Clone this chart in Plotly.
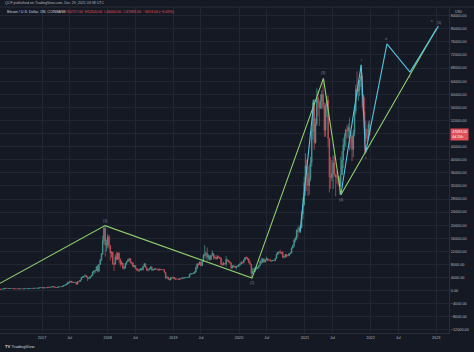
import plotly.graph_objects as go
import pandas as pd

# ---------------- data (weekly BTC/USD candles, read/estimated) ----------------
week_start = "2016-05-16"
first_open = 453

closes_2016 = [443, 527, 580, 665, 760, 660, 673, 652, 666, 655, 624, 588, 570, 581, 573, 608, 609,
               608, 602, 612, 617, 638, 657, 700, 703, 701, 731, 732, 765, 775, 790, 890, 998]
highs_2016 = [455, 530, 585, 730, 780, 765, 705, 680, 675, 680, 660, 630, 600, 590, 585, 610, 615,
              612, 610, 615, 620, 640, 660, 720, 742, 725, 745, 750, 770, 780, 792, 900, 1000]
lows_2016 = [440, 438, 520, 575, 665, 600, 620, 640, 646, 650, 620, 475, 565, 570, 568, 572, 600,
             600, 590, 600, 609, 615, 630, 650, 690, 695, 705, 720, 730, 760, 770, 790, 885]

closes_2017 = [900, 820, 920, 915, 1010, 1000, 1050, 1150, 1270, 1230,
               1010, 960, 1080, 1180, 1170, 1240, 1340, 1560, 1720, 2050,
               2200, 2520, 2950, 2600, 2590, 2500, 2520, 1980, 2750, 2740,
               3230, 4060, 4090, 4380, 4600, 4200, 3700, 3780, 4360, 4600,
               5700, 6010, 6140, 7360, 5950, 8040, 9350, 11300, 15200, 19100,
               13900, 14100]
highs_2017 = [1140, 910, 935, 930, 1025, 1060, 1060, 1210, 1290, 1330,
              1260, 1070, 1100, 1200, 1210, 1265, 1370, 1640, 1800, 2200,
              2790, 2560, 3000, 2980, 2780, 2650, 2680, 2420, 2930, 2800,
              3280, 4200, 4480, 4460, 4980, 4750, 4350, 4100, 4390, 4760,
              5850, 6180, 6300, 7450, 7900, 8100, 9700, 11400, 16800, 19870,
              19500, 15600]
lows_2017 = [780, 750, 820, 880, 910, 975, 990, 1040, 1130, 980,
             950, 880, 950, 1060, 1140, 1160, 1240, 1330, 1540, 1710,
             1850, 2150, 2500, 2300, 2450, 2320, 2490, 1840, 1950, 2600,
             2700, 3220, 3960, 3990, 4340, 4080, 2980, 3500, 3700, 4130,
             4600, 5100, 5350, 6100, 5500, 5850, 7950, 9050, 10900, 14200,
             10400, 12000]

closes_2018 = [16500, 13600, 11500, 11750, 8200, 8100, 10400, 9600, 11500, 9550,
               8200, 8450, 6850, 7050, 8350, 8900, 9400, 9650, 8700, 8500,
               7350, 7700, 6770, 6450, 6150, 6360, 6750, 6350, 7400, 8200,
               7030, 6300, 6400, 6700, 7300, 6250, 6500, 6700, 6630, 6600,
               6300, 6500, 6450, 6480, 6380, 5600, 4000, 4150, 3600, 3250,
               4000, 3900, 4050]
highs_2018 = [17200, 17100, 14000, 12000, 11900, 8600, 11100, 11800, 11700, 11700,
              9900, 9200, 8500, 7500, 8450, 9000, 9750, 9950, 10000, 8900,
              8650, 7800, 7800, 6880, 6850, 6500, 6800, 6800, 7600, 8500,
              8250, 7150, 6600, 6850, 7350, 7400, 6600, 6750, 6800, 6700,
              6650, 6750, 6600, 6550, 6550, 6400, 5650, 4450, 4300, 3650,
              4250, 4200, 4100]
lows_2018 = [13000, 12800, 9200, 10100, 7800, 6000, 8000, 9300, 9400, 8400,
             7300, 7800, 6550, 6450, 6700, 7900, 8800, 8950, 8300, 8000,
             7200, 7050, 6550, 6100, 5800, 5800, 6200, 6100, 6300, 7400,
             6950, 5950, 5900, 6250, 6700, 6150, 6150, 6300, 6350, 6450,
             6100, 6250, 6350, 6300, 6350, 5500, 3500, 3700, 3300, 3150,
             3250, 3600, 3650]

closes_2019 = [3550, 3560, 3530, 3410, 3660, 3630, 3830, 3860, 3950, 4010,
               4020, 4140, 5050, 5150, 5270, 5250, 5700, 6950, 8200, 8050,
               8750, 7650, 8900, 10800, 10800, 11450, 10250, 10550, 9500, 10800,
               11400, 10300, 10150, 9750, 10400, 10300, 10000, 8050, 7900, 8300,
               8200, 9550, 9200, 8800, 8500, 6900, 7400, 7500, 7100, 7500,
               7380, 7750]
highs_2019 = [4100, 3700, 3650, 3600, 3700, 3700, 4200, 3950, 3980, 4050,
              4100, 4200, 5100, 5450, 5350, 5650, 5900, 7500, 8350, 8200,
              8950, 8850, 9400, 11300, 13880, 12000, 13200, 11100, 10900, 10900,
              12350, 11500, 10950, 10650, 10900, 10450, 10350, 10050, 8550, 8850,
              8450, 10540, 9500, 9450, 9100, 8500, 7850, 7850, 7550, 7550,
              7700, 8150]
lows_2019 = [3500, 3450, 3450, 3350, 3350, 3580, 3620, 3750, 3750, 3850,
             3950, 3950, 4100, 4950, 4980, 5100, 5150, 5550, 6600, 7500,
             7850, 7450, 7550, 8800, 10400, 9700, 9100, 9450, 9100, 9400,
             10800, 9500, 9700, 9400, 9650, 9900, 9650, 7700, 7700, 7800,
             7900, 7350, 8900, 8550, 8250, 6520, 6850, 7200, 7000, 6450,
             7150, 7300]

closes_2020 = [8180, 8700, 8600, 9350, 10150, 9900, 9680, 8530, 8050, 5360,
               5830, 5880, 6780, 6900, 7120, 7700, 8900, 8750, 9700, 8720,
               9450, 9750, 9400, 9300, 9100, 9070, 9250, 9170, 9900, 11050,
               11680, 11850, 11650, 11700, 10250, 10320, 11080, 10730, 10670, 11380,
               11500, 13030, 13800, 15480, 16060, 18400, 18180, 19150, 19250, 23450,
               26250, 33000]
highs_2020 = [8450, 9000, 8800, 9550, 10200, 10500, 10300, 9950, 9200, 8200,
              6900, 6950, 7200, 7450, 7300, 7780, 9450, 10050, 9950, 9950,
              9600, 10400, 10000, 9600, 9850, 9300, 9450, 9350, 9950, 11450,
              11900, 12100, 12480, 11800, 12100, 10600, 11200, 11170, 11000, 11450,
              11720, 13200, 14100, 15950, 16500, 18800, 19500, 19920, 19420, 24300,
              28400, 34800]
lows_2020 = [7700, 8050, 8250, 8300, 9150, 9700, 9300, 8500, 8000, 3850,
             5000, 5700, 5900, 6450, 6500, 6750, 7650, 8100, 8400, 8600,
             8650, 9150, 9000, 9100, 9000, 8900, 9050, 9000, 9050, 10600,
             10950, 11300, 11150, 11200, 9900, 9900, 10200, 10130, 10550, 10550,
             11100, 11400, 12900, 13200, 14800, 15400, 16200, 17600, 17600, 19000,
             21800, 25900]

closes_2021 = [38150, 36000, 32100, 34300, 39250, 48600, 57400, 45150, 50900, 59000,
               57300, 55800, 57900, 59900, 56200, 49000, 56600, 58200, 46500, 34700,
               34600, 35800, 39100, 35500, 34700, 34700, 34300, 31800, 35400, 39900,
               44600, 47000, 49000, 48800, 49900, 48300, 47300, 43200, 48200, 54900,
               61500, 60900, 61300, 64300, 65500, 59700, 54800, 49400, 46700, 46700,
               50800, 47683]
highs_2021 = [41950, 40100, 37850, 38500, 40900, 49700, 58350, 57500, 52600, 61800,
              61200, 58400, 60000, 61200, 64850, 57500, 57200, 59500, 59600, 45800,
              40800, 39900, 41300, 41300, 35600, 36600, 35100, 34900, 40900, 42600,
              46500, 48100, 49500, 50500, 51000, 52900, 48800, 45000, 49200, 56600,
              62900, 67000, 63700, 64300, 69000, 66300, 59400, 59100, 51900, 49500,
              51800, 52100]
lows_2021 = [29000, 30400, 28900, 29300, 33400, 37900, 46200, 43000, 44900, 50300,
             53300, 50300, 55500, 55400, 55400, 47000, 47000, 53000, 43800, 30000,
             31100, 33400, 31000, 34800, 28800, 32700, 32100, 29300, 31800, 38300,
             37400, 42800, 43900, 46300, 46600, 42800, 43400, 39600, 40800, 47100,
             53900, 59500, 58000, 59400, 62300, 56000, 53300, 42000, 45600, 45500,
             46000, 47300]

closes = closes_2016 + closes_2017 + closes_2018 + closes_2019 + closes_2020 + closes_2021
highs = highs_2016 + highs_2017 + highs_2018 + highs_2019 + highs_2020 + highs_2021
lows = lows_2016 + lows_2017 + lows_2018 + lows_2019 + lows_2020 + lows_2021
opens = [first_open] + closes[:-1]
dates = pd.date_range(week_start, periods=len(closes), freq="7D")

# drawn trend lines (pivot dates / prices)
green_dates = ["2016-05-12", "2017-12-17", "2020-03-13", "2021-04-14", "2021-07-20", "2023-01-03"]
green_prices = [2250, 19870, 3850, 64850, 29300, 80100]
green_labels = ["", "(1)", "(2)", "(3)", "(4)", "(5)"]

cyan1_dates = ["2020-12-05", "2021-02-21"]
cyan1_prices = [18000, 58350]

cyan_dates = ["2021-07-20", "2021-11-10", "2021-12-04", "2022-04-02", "2022-08-08", "2023-01-13"]
cyan_prices = [29300, 69000, 42000, 75400, 66800, 80800]
cyan_labels = ["", "i", "ii", "iii", "iv", "v"]

last_price = 47683
price_ticks = list(range(-12000, 84001, 4000))
year_ticks = ["2017", "2018", "2019", "2020", "2021", "2022", "2023"]
mid_tick_label = "Jul"

# ---------------- styling ----------------
BG = "#151924"
GRID = "#222632"
AX = "#2a2e39"
TXT = "#b2b5be"
UP = "#48a098"
DOWN = "#cc525a"
GREEN = "#8fd06c"
CYAN = "#55c4e0"
FONT = "Liberation Sans"
FS = 3.8

W, H = 474, 352
ML, MR, MT, MB = 0, 25, 7, 19
PW, PH = W - ML - MR, H - MT - MB


def px_x(px):
    return (px - ML) / PW


def px_y(py):
    return (H - MB - py) / PH


fig = go.Figure()

fig.add_trace(go.Candlestick(
    x=dates, open=opens, high=highs, low=lows, close=closes,
    increasing=dict(line=dict(color=UP, width=0.7), fillcolor=UP),
    decreasing=dict(line=dict(color=DOWN, width=0.7), fillcolor=DOWN),
    whiskerwidth=0, showlegend=False, hoverinfo="skip",
))

fig.add_trace(go.Scatter(x=green_dates, y=green_prices, mode="lines",
                         line=dict(color=GREEN, width=1.1), showlegend=False, hoverinfo="skip"))
fig.add_trace(go.Scatter(x=cyan1_dates, y=cyan1_prices, mode="lines",
                         line=dict(color=CYAN, width=1.1), showlegend=False, hoverinfo="skip"))
fig.add_trace(go.Scatter(x=cyan_dates, y=cyan_prices, mode="lines",
                         line=dict(color=CYAN, width=1.1), showlegend=False, hoverinfo="skip"))

annotations = []
# wave labels
for i, (d, p, t) in enumerate(zip(green_dates, green_prices, green_labels)):
    if not t:
        continue
    up_side = i in (1, 3, 5)
    annotations.append(dict(x=d, y=p, xref="x", yref="y", text=t, showarrow=False,
                            yshift=5 if up_side else -5, xshift=2 if i == 5 else 0,
                            font=dict(size=3.4, color="#8a8d96", family=FONT)))
for i, (d, p, t) in enumerate(zip(cyan_dates, cyan_prices, cyan_labels)):
    if not t:
        continue
    up_side = i in (1, 3, 5)
    annotations.append(dict(x=d, y=p, xref="x", yref="y", text=t, showarrow=False,
                            yshift=5 if up_side else -5, xshift=-6 if i == 5 else 0,
                            font=dict(size=3.4, color="#8a8d96", family=FONT)))

# header
annotations.append(dict(x=px_x(3), y=px_y(3.5), xref="paper", yref="paper", xanchor="left",
                        yanchor="middle", showarrow=False,
                        text="QCF published on TradingView.com, Dec 29, 2021 03:38 UTC",
                        font=dict(size=3.6, color=TXT, family=FONT)))
annotations.append(dict(x=px_x(5), y=px_y(12), xref="paper", yref="paper", xanchor="left",
                        yanchor="middle", showarrow=False,
                        text="Bitcoin / U.S. Dollar, 1W, COINBASE",
                        font=dict(size=3.6, color="#d1d4dc", family=FONT)))
annotations.append(dict(x=px_x(63), y=px_y(12), xref="paper", yref="paper", xanchor="left",
                        yanchor="middle", showarrow=False,
                        text="O50757.00  H52100.00  L46000.00  C47683.00  \u22123074.00 (\u22126.06%)",
                        font=dict(size=3.6, color="#e0505a", family=FONT)))
# currency tag
annotations.append(dict(x=px_x(459), y=px_y(11.5), xref="paper", yref="paper", xanchor="center",
                        yanchor="middle", showarrow=False, text="USD",
                        font=dict(size=3.4, color=TXT, family=FONT)))
# last price tag
annotations.append(dict(x=px_x(449.5), y=last_price, xref="paper", yref="y", xanchor="left",
                        yanchor="middle", showarrow=False,
                        text="%.2f<br>4d 20h" % last_price, bgcolor="#e04f55",
                        borderpad=1.2, align="left",
                        font=dict(size=3.6, color="#ffffff", family=FONT)))
# footer logo
annotations.append(dict(x=px_x(3), y=px_y(346), xref="paper", yref="paper", xanchor="left",
                        yanchor="middle", showarrow=False, text="<b>TV</b> TradingView",
                        font=dict(size=4.2, color="#d1d4dc", family=FONT)))

# price tick labels (the one hidden behind the last-price tag is left blank)
price_text = []
for v in price_ticks:
    if abs(v - last_price) < 2500:
        price_text.append("")
    else:
        price_text.append(("\u2212" if v < 0 else "") + "%.2f" % abs(v))

# time ticks (year labels at Jan 1, mid labels as placed in the reference)
tickvals, ticktext = [], []
for k, y in enumerate(year_ticks):
    tickvals.append(f"{y}-01-01")
    ticktext.append(y)
    if k < len(year_ticks) - 1:
        tickvals.append(f"{y}-06-03")
        ticktext.append(mid_tick_label)

fig.update_layout(
    width=W, height=H,
    margin=dict(l=ML, r=MR, t=MT, b=MB, pad=0),
    paper_bgcolor=BG, plot_bgcolor=BG,
    font=dict(family=FONT, size=FS, color=TXT),
    annotations=annotations,
    shapes=[dict(type="line", xref="paper", yref="paper", x0=0, x1=1 + MR / PW,
                 y0=1, y1=1, line=dict(color=AX, width=1))],
    xaxis=dict(type="date", range=["2016-05-12", "2023-03-13"],
               tickvals=tickvals, ticktext=ticktext, showgrid=True, gridcolor=GRID,
               gridwidth=1, zeroline=False, showline=True, linecolor=AX, linewidth=1,
               ticks="", tickfont=dict(size=FS, color=TXT, family=FONT),
               rangeslider=dict(visible=False), fixedrange=True),
    yaxis=dict(side="right", range=[-12920, 86650], tickmode="array",
               tickvals=price_ticks, ticktext=price_text,
               showgrid=True, gridcolor=GRID, gridwidth=1,
               zeroline=False, showline=True, linecolor=AX, linewidth=1,
               ticks="", tickfont=dict(size=FS, color=TXT, family=FONT), fixedrange=True),
)

fig.write_html("out.html")
